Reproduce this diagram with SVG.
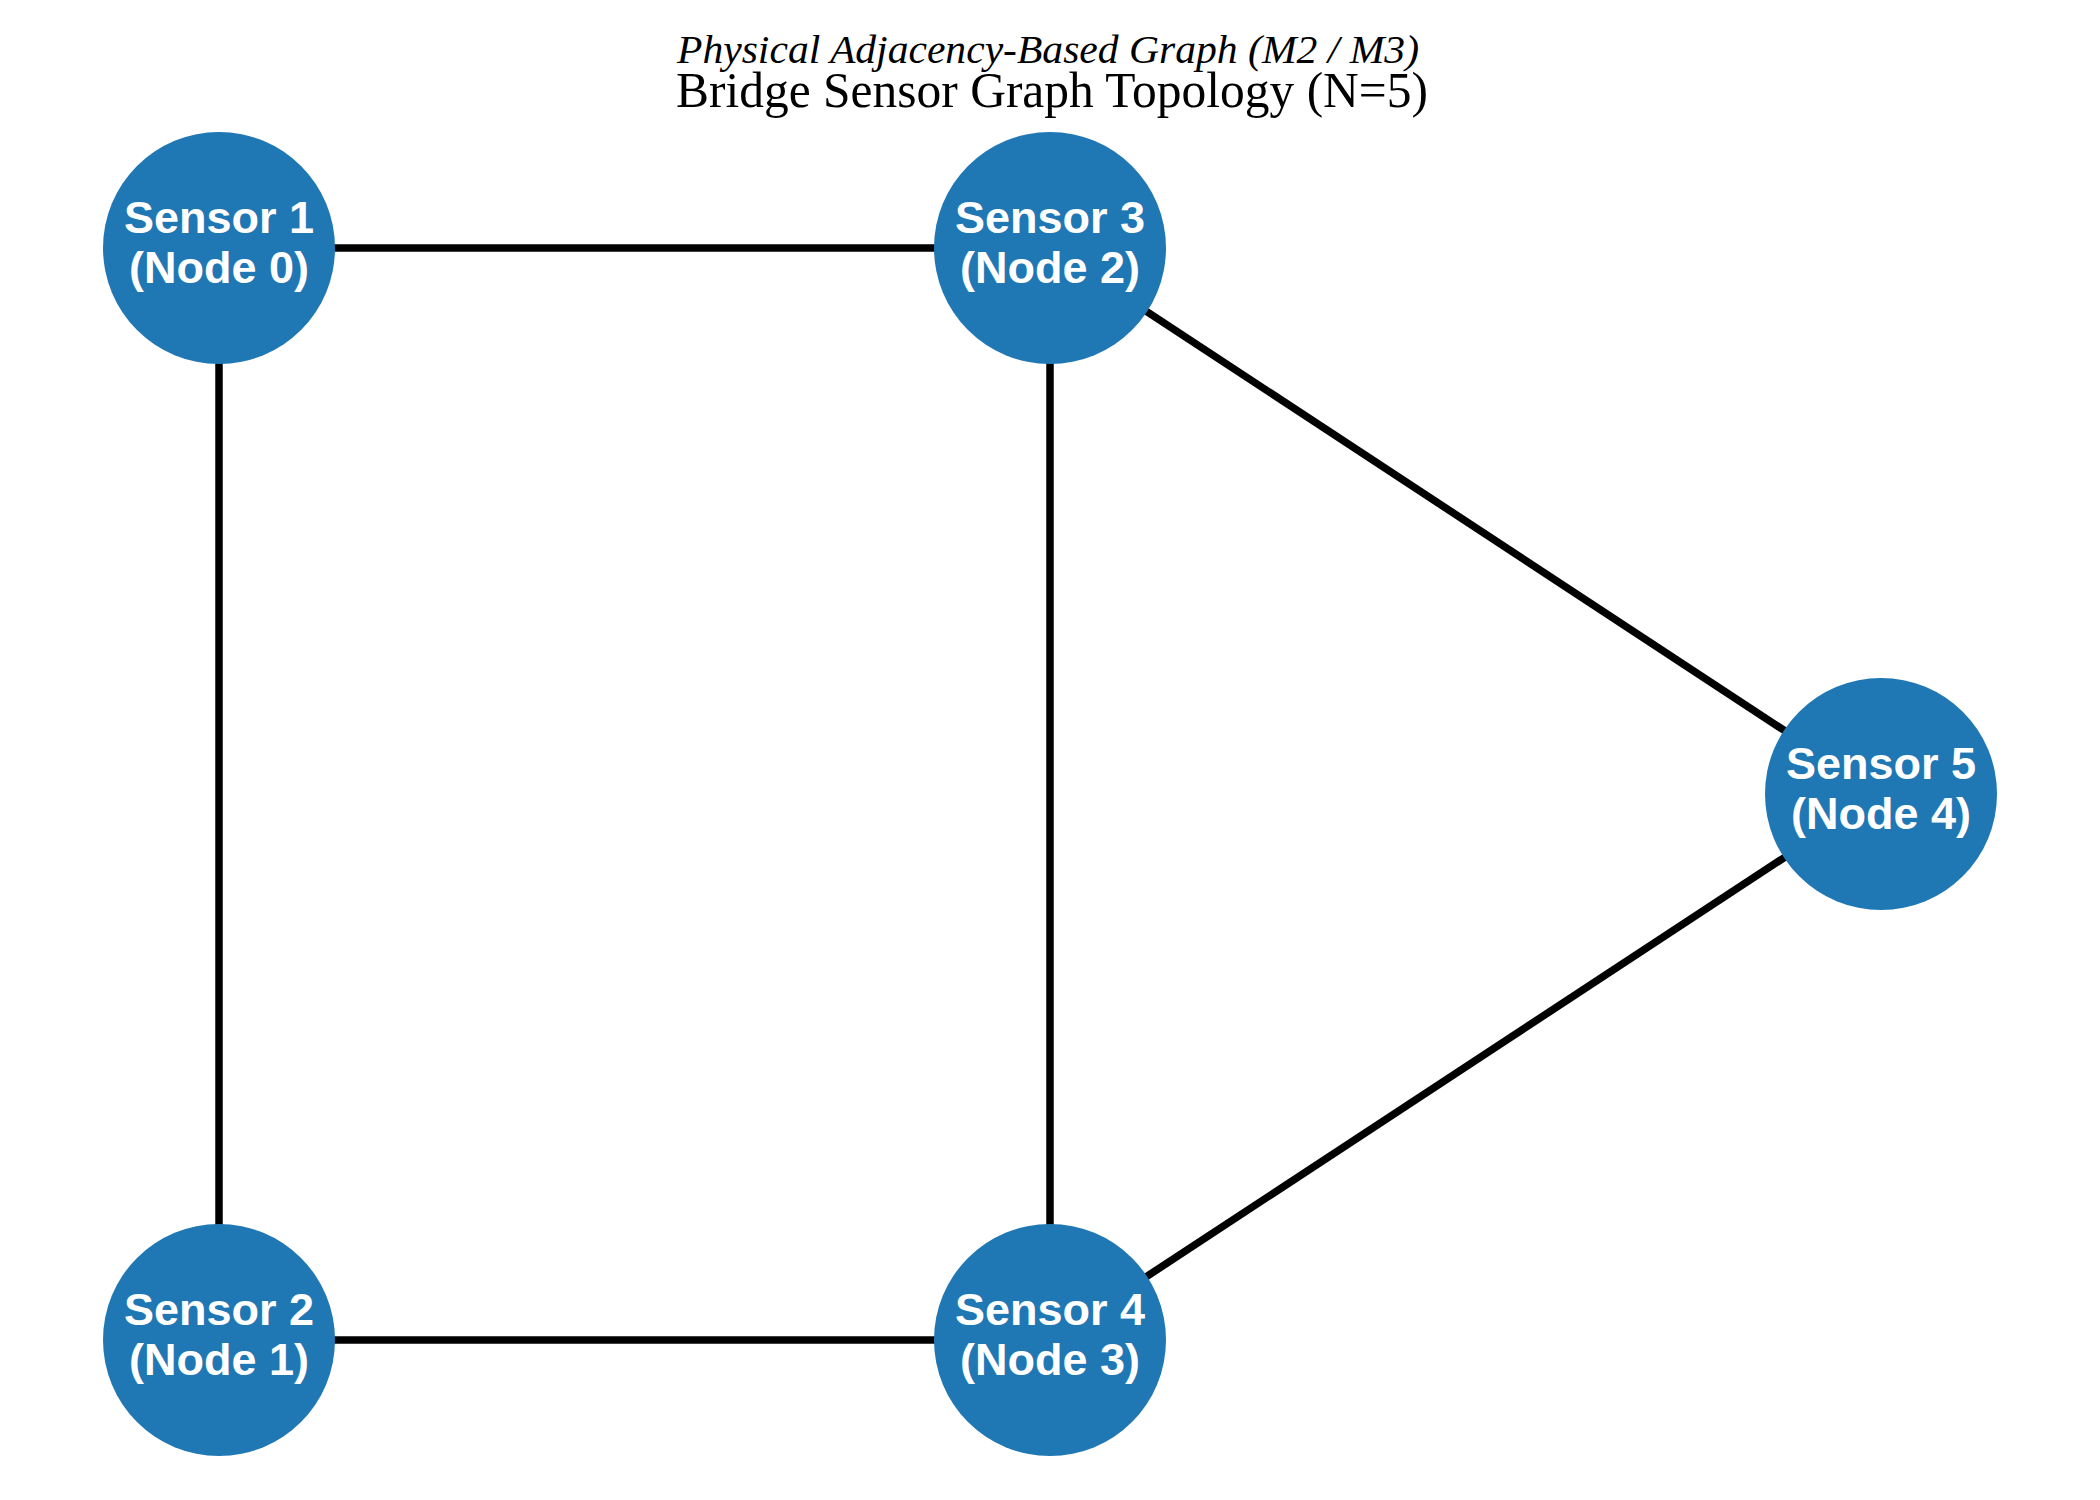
<svg xmlns="http://www.w3.org/2000/svg" width="2100" height="1500" viewBox="0 0 2100 1500">
<style>
.edge{stroke:#000;stroke-width:7.5;fill:none}
.node circle{fill:#1f77b4}
.node text{font-family:"Liberation Sans",Arial,sans-serif;font-weight:bold;font-size:45px;fill:#fff;text-anchor:middle}
.title{font-family:"Liberation Serif","Times New Roman",serif;fill:#000;text-anchor:middle}
</style>
<rect width="2100" height="1500" fill="#fff"/>
<text class="title" x="1048" y="63" font-size="40" font-style="italic" textLength="742" lengthAdjust="spacingAndGlyphs">Physical Adjacency-Based Graph (M2 / M3)</text>
<text class="title" x="1052" y="107" font-size="50" textLength="752" lengthAdjust="spacingAndGlyphs">Bridge Sensor Graph Topology (N=5)</text>
<g id="edges">
<line class="edge" x1="219" y1="248" x2="1050" y2="248"/>
<line class="edge" x1="219" y1="248" x2="219" y2="1340"/>
<line class="edge" x1="1050" y1="248" x2="1050" y2="1340"/>
<line class="edge" x1="219" y1="1340" x2="1050" y2="1340"/>
<line class="edge" x1="1050" y1="248" x2="1881" y2="794"/>
<line class="edge" x1="1050" y1="1340" x2="1881" y2="794"/>
</g>
<g id="node0" class="node"><circle cx="219" cy="248" r="116"/><text x="219" y="233">Sensor 1</text><text x="219" y="283">(Node 0)</text></g>
<g id="node1" class="node"><circle cx="219" cy="1340" r="116"/><text x="219" y="1325">Sensor 2</text><text x="219" y="1375">(Node 1)</text></g>
<g id="node2" class="node"><circle cx="1050" cy="248" r="116"/><text x="1050" y="233">Sensor 3</text><text x="1050" y="283">(Node 2)</text></g>
<g id="node3" class="node"><circle cx="1050" cy="1340" r="116"/><text x="1050" y="1325">Sensor 4</text><text x="1050" y="1375">(Node 3)</text></g>
<g id="node4" class="node"><circle cx="1881" cy="794" r="116"/><text x="1881" y="779">Sensor 5</text><text x="1881" y="829">(Node 4)</text></g>
</svg>
